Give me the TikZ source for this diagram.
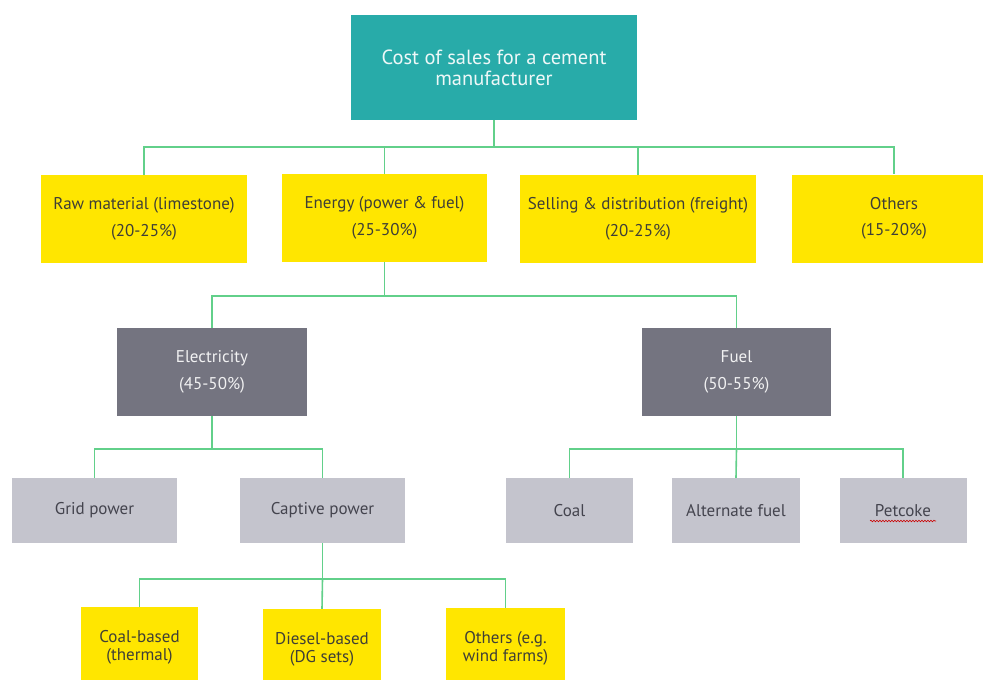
\documentclass[tikz,border=0pt]{standalone}
\usepackage{fontspec}
\setmainfont{PT Sans}
\usetikzlibrary{decorations.pathmorphing}
\definecolor{eyteal}{HTML}{28ABA9}
\definecolor{eyyellow}{HTML}{FFE600}
\definecolor{eydark}{HTML}{747480}
\definecolor{eylight}{HTML}{C4C4CD}
\definecolor{eygreen}{HTML}{62D08A}
\definecolor{inkdark}{HTML}{3F3F36}
\definecolor{inkgrey}{HTML}{44444E}
\tikzset{
  box/.style={rectangle, inner sep=0pt, align=center, font=\fontsize{17}{26.5}\selectfont},
  topbox/.style={box, fill=eyteal, text=white!92!eyteal, minimum width=286pt, minimum height=105pt, font=\fontsize{20.5}{21}\selectfont},
  catbox/.style={box, fill=eyyellow, text=inkdark, minimum height=88pt},
  subbox/.style={box, fill=eydark, text=white!90!eydark, minimum height=88pt},
  leafbox/.style={box, fill=eylight, text=inkgrey, minimum height=65pt},
  techbox/.style={box, fill=eyyellow, text=inkdark, minimum height=80pt, font=\fontsize{17}{18}\selectfont},
  link/.style={draw=eygreen, line width=1.6pt}
}
\begin{document}
\begin{tikzpicture}[x=1pt, y=-1pt]
\useasboundingbox (0,0) rectangle (983,680);

% levels of the horizontal bus lines
\coordinate (bus1) at (0,147);
\coordinate (bus2) at (0,296);
\coordinate (bus3) at (0,449);
\coordinate (bus4) at (0,579);

% boxes
\node[topbox] (top) at (494,67.5) {Cost of sales for a cement\\manufacturer};
\node[catbox, minimum width=206pt] (raw) at (144,219) {Raw material (limestone)\\(20-25\%)};
\node[catbox, minimum width=205pt] (energy) at (384.5,218) {Energy (power \& fuel)\\(25-30\%)};
\node[catbox, minimum width=236pt] (selling) at (638,219) {Selling \& distribution (freight)\\(20-25\%)};
\node[catbox, minimum width=204pt] (others) at (894,218.5) {Others\\(15-20\%)};

\node[subbox, minimum width=190pt] (elec) at (212,372) {Electricity\\(45-50\%)};
\node[subbox, minimum width=189pt] (fuel) at (736.5,372) {Fuel\\(50-55\%)};

\node[leafbox, minimum width=165pt] (grid) at (94.5,510.5) {Grid power};
\node[leafbox, minimum width=165pt] (captive) at (322.5,510.5) {Captive power};
\node[leafbox, minimum width=127pt] (coal) at (569.5,510.5) {Coal};
\node[leafbox, minimum width=128pt] (alt) at (736,510.5) {Alternate fuel};
\node[leafbox, minimum width=127pt] (petcoke) at (903,510.5) {Petcoke};

\node[techbox, minimum width=117pt] (coalbased) at (139.5,647) {Coal-based\\(thermal)};
\node[techbox, minimum width=118pt] (diesel) at (322,649) {Diesel-based\\(DG sets)};
\node[techbox, minimum width=119pt] (otherstech) at (505.5,648) {Others (e.g.\\wind farms)};

% tree connectors
\draw[link] (top.south) -- (top.south |- bus1) -| (raw.north);
\draw[link] (top.south |- bus1) -| (energy.north);
\draw[link] (top.south |- bus1) -| (selling.north);
\draw[link] (top.south |- bus1) -| (others.north);

\draw[link] (energy.south) -- (energy.south |- bus2) -| (elec.north);
\draw[link] (energy.south |- bus2) -| (fuel.north);

\draw[link] (elec.south) -- (elec.south |- bus3) -| (grid.north);
\draw[link] (elec.south |- bus3) -| (captive.north);

\draw[link] (fuel.south) -- (fuel.south |- bus3) -| (coal.north);
\draw[link] (fuel.south |- bus3) -- (alt.north);
\draw[link] (fuel.south |- bus3) -| (petcoke.north);

\draw[link] (captive.south) -- (captive.south |- bus4) -| (coalbased.north);
\draw[link] (captive.south |- bus4) -- (diesel.north);
\draw[link] (captive.south |- bus4) -| (otherstech.north);

% spell-check squiggle under "Petcoke"
\coordinate (sqa) at (870,521);
\coordinate (sqb) at (936,521);
\draw[red!80!black, line width=0.6pt, decorate, decoration={snake, amplitude=0.8pt, segment length=3pt}] (sqa) -- (sqb);
\end{tikzpicture}
\end{document}
